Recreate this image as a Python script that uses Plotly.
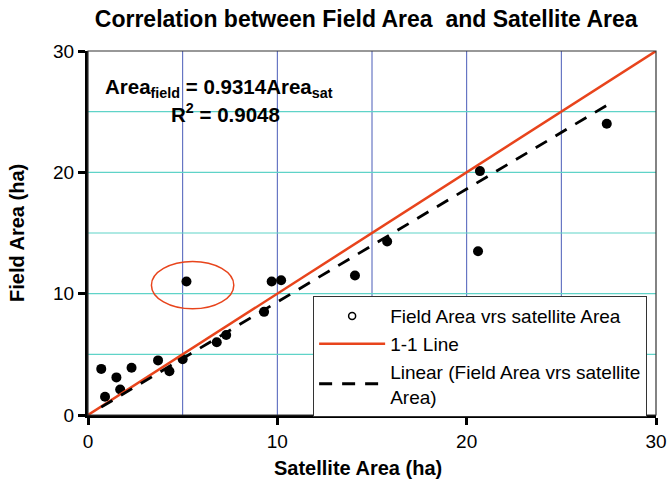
import plotly.graph_objects as go

sat_area = [0.7, 0.9, 1.5, 1.7, 2.3, 3.7, 4.3, 5.0, 5.2, 6.8, 7.3, 9.3, 9.7, 10.2, 14.1, 15.8, 20.6, 20.7, 27.4]
field_area = [3.8, 1.5, 3.1, 2.1, 3.9, 4.5, 3.6, 4.6, 11.0, 6.0, 6.6, 8.5, 11.0, 11.1, 11.5, 14.3, 13.5, 20.1, 24.0]
slope = 0.9314
one_one = [0, 30]
ticks = [0, 10, 20, 30]
grid_vals = [5, 10, 15, 20, 25]

fit_x = [min(sat_area), max(sat_area)]
fit_y = [slope * v for v in fit_x]

FONT = "Liberation Sans, Arial, sans-serif"

fig = go.Figure()
fig.add_trace(go.Scatter(
    x=sat_area, y=field_area, mode="markers",
    name="Field Area vrs satellite Area", showlegend=False,
    marker=dict(color="black", size=10, symbol="circle"),
))
# legend entry (open circle, as in the reference legend)
fig.add_trace(go.Scatter(
    x=[None], y=[None], mode="markers",
    name="Field Area vrs satellite Area",
    marker=dict(color="white", size=7, symbol="circle", line=dict(color="black", width=1.5)),
))
fig.add_trace(go.Scatter(
    x=one_one, y=one_one, mode="lines", name="1-1 Line",
    line=dict(color="#e8441c", width=2.5),
))
fig.add_trace(go.Scatter(
    x=fit_x, y=fit_y, mode="lines",
    name="Linear (Field Area vrs satellite<br>Area)",
    line=dict(color="black", width=2.8, dash="13px,10px"),
))

# highlight ellipse
fig.add_shape(type="circle", xref="x", yref="y", x0=3.35, x1=7.7, y0=8.75, y1=12.65,
              line=dict(color="#e8441c", width=1.5))
# thin frame
fig.add_shape(type="rect", xref="paper", yref="paper", x0=0, x1=1, y0=0, y1=1,
              line=dict(color="#333333", width=1.2), layer="above")

# grid lines
for v in grid_vals:
    fig.add_shape(type="line", xref="x", yref="paper", x0=v, x1=v, y0=0, y1=1,
                  line=dict(color="#4a5cb8", width=1), layer="below")
for v in grid_vals:
    fig.add_shape(type="line", xref="paper", yref="y", x0=0, x1=1, y0=v, y1=v,
                  line=dict(color="#5fd3c8", width=1.2), layer="below")

fig.add_annotation(xref="paper", yref="paper", x=0.026, y=0.898, xanchor="left", yanchor="middle",
                   text="<b>Area<sub>field</sub> = 0.9314Area<sub>sat</sub></b>", showarrow=False,
                   font=dict(family=FONT, size=20.5, color="black"))
fig.add_annotation(xref="paper", yref="paper", x=0.142, y=0.83, xanchor="left", yanchor="middle",
                   text="<b>R<sup>2</sup> = 0.9048</b>", showarrow=False,
                   font=dict(family=FONT, size=20.5, color="black"))

# axis titles
fig.add_annotation(xref="paper", yref="paper", x=0.475, y=-0.145, xanchor="center", yanchor="middle",
                   text="<b>Satellite Area (ha)</b>", showarrow=False,
                   font=dict(family=FONT, size=20, color="black"))
fig.add_annotation(xref="paper", yref="paper", x=-0.125, y=0.5, xanchor="center", yanchor="middle",
                   text="<b>Field Area (ha)</b>", showarrow=False, textangle=-90,
                   font=dict(family=FONT, size=20, color="black"))

fig.update_layout(
    width=667, height=489,
    margin=dict(l=88, r=11, t=51, b=74, autoexpand=False),
    paper_bgcolor="white", plot_bgcolor="white",
    font=dict(family=FONT, size=18, color="black"),
    title=dict(text="<b>Correlation between Field Area  and Satellite Area</b>",
               x=0.549, xanchor="center", y=0.961, yanchor="middle",
               font=dict(family=FONT, size=23, color="black")),
    showlegend=True,
    legend=dict(x=0.396, y=0.327, xanchor="left", yanchor="top",
                bgcolor="white", bordercolor="#333333", borderwidth=1.2,
                font=dict(family=FONT, size=19, color="black"),
                itemwidth=66, tracegroupgap=0),
)
fig.update_xaxes(
    range=[0, 30], tickmode="array", tickvals=ticks, automargin=False,
    showgrid=False, zeroline=False,
    showline=True, linecolor="black", linewidth=3,
    ticks="outside", ticklen=7, tickwidth=3, tickcolor="black",
    tickfont=dict(family=FONT, size=19),
)
fig.update_yaxes(
    range=[0, 30], tickmode="array", tickvals=ticks, automargin=False,
    showgrid=False, zeroline=False,
    showline=True, linecolor="black", linewidth=3,
    ticks="outside", ticklen=7, tickwidth=3, tickcolor="black",
    tickfont=dict(family=FONT, size=19),
)

fig.write_html("out.html", config={"displayModeBar": False},
               post_script="document.body.style.margin='0';document.body.style.padding='0';")
